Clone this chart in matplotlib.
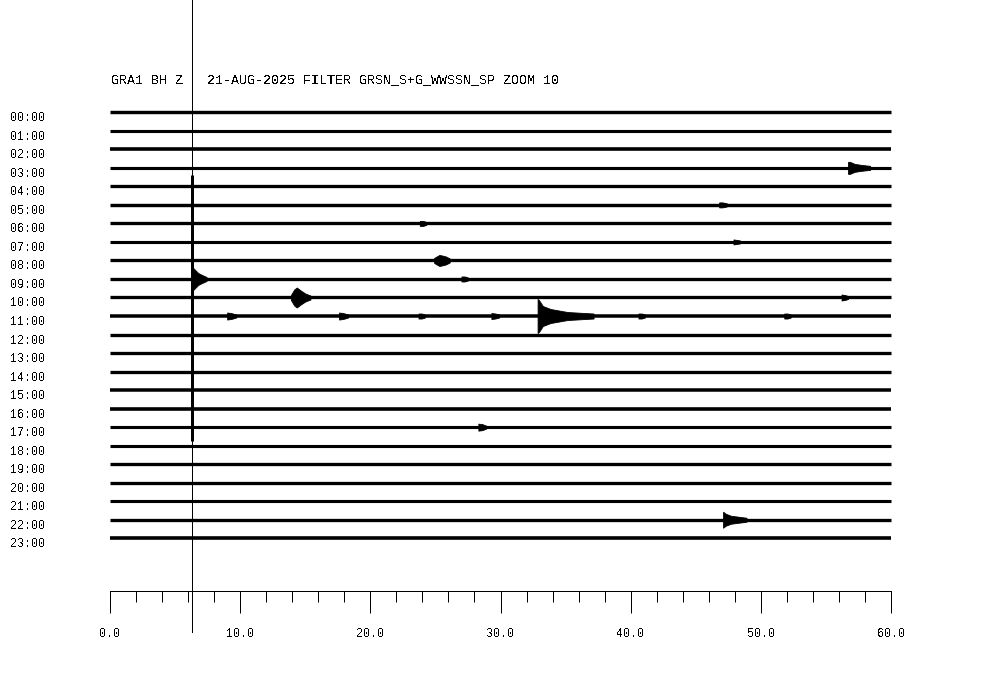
import matplotlib
matplotlib.use("Agg")
import matplotlib.pyplot as plt
from matplotlib.ticker import MultipleLocator, FormatStrFormatter

# ---------------- data ----------------
title_text = "GRA1 BH Z   21-AUG-2025 FILTER GRSN_S+G_WWSSN_SP ZOOM 10"
hour_labels = ["%02d:00" % h for h in range(24)]
# background noise thickness of each hourly trace (pixels, full band)
noise_px = [3.4, 3.1, 3.6, 3.1, 3.3, 3.4, 3.3, 3.1, 3.3, 3.3, 3.3, 3.5,
            3.3, 3.3, 3.3, 3.5, 3.6, 3.1, 3.1, 3.3, 3.3, 3.1, 3.3, 3.6]

# events: row (hour), start minute, envelope offsets (min), half-amplitudes (px)
ev_row = [3, 5, 6, 8, 9, 9, 10, 10, 11, 11, 11, 11, 11, 11, 11, 17, 22, 7]
ev_start = [56.7, 46.8, 23.8, 24.9, 6.32, 27.0, 13.9, 56.2, 32.85, 9.0, 17.6,
            23.7, 29.3, 40.6, 51.8, 28.3, 47.1, 47.9]
ev_offsets = [
    [0, 0.15, 0.5, 1.0, 1.7],
    [0, 0.25, 0.6],
    [0, 0.25, 0.5],
    [0, 0.4, 0.6, 0.9, 1.2],
    [0, 0.15, 0.45, 0.75, 1.1],
    [0, 0.25, 0.5],
    [0, 0.25, 0.45, 0.75, 1.1, 1.5],
    [0, 0.25, 0.5],
    [0, 0.1, 0.4, 1.0, 2.3, 4.3],
    [0, 0.3, 0.7],
    [0, 0.3, 0.7],
    [0, 0.25, 0.5],
    [0, 0.3, 0.6],
    [0, 0.25, 0.5],
    [0, 0.25, 0.5],
    [0, 0.3, 0.6],
    [0, 0.2, 0.6, 1.2, 1.8],
    [0, 0.25, 0.5],
]
ev_amps = [
    [6, 6, 4, 3, 2],
    [2.5, 2.5, 1.5],
    [2.5, 2.5, 1.5],
    [2.5, 5.5, 5, 4, 2],
    [12, 10, 6, 4, 2],
    [2.5, 2.5, 1.5],
    [2.5, 8, 10, 7, 4, 2],
    [3, 2.5, 1.5],
    [17, 16, 10, 7, 4, 2.5],
    [3.5, 3, 1.5],
    [3.5, 3, 1.5],
    [2.5, 2.5, 1.5],
    [3, 2.5, 1.5],
    [2.5, 2.5, 1.5],
    [2.5, 2.5, 1.5],
    [3.5, 3, 1.5],
    [8, 6, 4, 3, 2],
    [2.5, 2, 1.5],
]

# large clipped arrival crossing many traces
shock_minute = 6.32
shock_row = 9
shock_up_px = 104
shock_down_px = 162

# time axis
x_min, x_max = 0.0, 60.0
major_step, minor_step = 10.0, 2.0

# ---------------- layout ----------------
W, H = 1000, 700
X0_PX, X1_PX = 110, 891
PX_PER_MIN = (X1_PX - X0_PX) / (x_max - x_min)
ROW0_PX, ROW_PX = 112.3, 18.52

def ypx(p):
    return (p - ROW0_PX) / ROW_PX

plt.rcParams["text.antialiased"] = False
fig = plt.figure(figsize=(10, 7), dpi=100)
ax = fig.add_axes([0, 0, 1, 1])
ax.set_xlim(-X0_PX / PX_PER_MIN, (W - X0_PX) / PX_PER_MIN)
ax.set_ylim(ypx(H), ypx(0))
ax.axis("off")

mono = "Liberation Mono"
pt = 72.0 / 100.0  # points per pixel

# traces
for r in range(24):
    ax.hlines(r, x_min, x_max, colors="black", linewidth=noise_px[r] * pt,
              capstyle="butt")

# events
for row, st, offs, amps in zip(ev_row, ev_start, ev_offsets, ev_amps):
    xs = [st + o for o in offs]
    lo = [row - a / ROW_PX for a in amps]
    hi = [row + a / ROW_PX for a in amps]
    ax.fill_between(xs, lo, hi, color="black", linewidth=0.6, edgecolor="black")

# clipped arrival
ax.vlines(shock_minute, shock_row - shock_up_px / ROW_PX,
          shock_row + shock_down_px / ROW_PX, colors="black",
          linewidth=3 * pt)
# marker line through the whole sheet
ax.vlines(shock_minute, ypx(0), ypx(632), colors="black", linewidth=1 * pt,
          antialiased=False)

# hour labels
for r, lab in enumerate(hour_labels):
    ax.text(-100 / PX_PER_MIN, r + 6.0 / ROW_PX, lab, family=mono, fontsize=8.4,
            ha="left", va="center", color="black")

# title
ax.text(-(X0_PX - 111) / PX_PER_MIN, ypx(80), title_text, family=mono,
        fontsize=9.6, ha="left", va="center", color="black")

# time axis
tax = fig.add_axes([X0_PX / W, 1 - 591 / H, (X1_PX - X0_PX) / W, 0.0001])
tax.set_xlim(x_min, x_max)
tax.set_yticks([])
for s in ["top", "left", "right"]:
    tax.spines[s].set_visible(False)
tax.spines["bottom"].set_linewidth(1 * pt)
tax.set_facecolor("none")
tax.xaxis.set_major_locator(MultipleLocator(major_step))
tax.xaxis.set_minor_locator(MultipleLocator(minor_step))
tax.xaxis.set_major_formatter(FormatStrFormatter("%.1f"))
tax.tick_params(axis="x", which="major", direction="out", length=22 * pt,
                width=1 * pt, pad=15 * pt, labelsize=8.4)
tax.tick_params(axis="x", which="minor", direction="out", length=11 * pt,
                width=1 * pt)
for lbl in tax.get_xticklabels():
    lbl.set_family(mono)

fig.savefig("out.png", dpi=100)
